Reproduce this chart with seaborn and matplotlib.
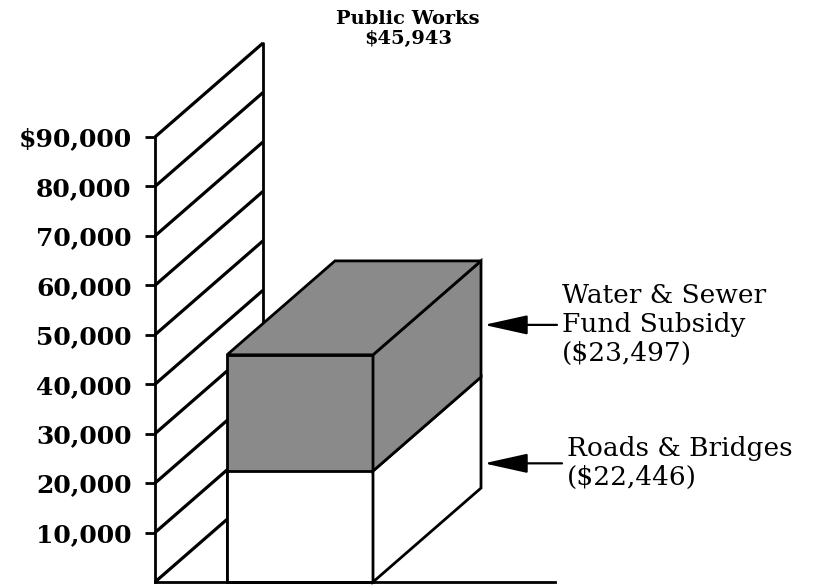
import numpy as np
import pandas as pd
import matplotlib
matplotlib.use("Agg")
import matplotlib.pyplot as plt
import seaborn as sns
from matplotlib.patches import Polygon

# ---- data ----
title = "Public Works"
segments = ["Roads & Bridges", "Water & Sewer\nFund Subsidy"]
amounts = [22446, 23497]
tick_values = [10000, 20000, 30000, 40000, 50000, 60000, 70000, 80000, 90000]
tick_labels = ["10,000", "20,000", "30,000", "40,000", "50,000",
               "60,000", "70,000", "80,000", "$90,000"]

# ---- styling / layout ----
FILLS = ["white", "#8a8a8a"]
BAR_W = 0.73          # width of the front face (x units)
DEPTH_X = 0.54        # perspective offset of the back plane (x units)
DEPTH_Y = 19000       # perspective offset of the back plane (dollars)
AXIS_X = -0.725       # position of the value axis
FLOOR_END = 1.275
LW = 2.0

sns.set_style("white")
plt.rcParams["font.family"] = ["DejaVu Serif"]
plt.rcParams["text.color"] = "black"
plt.rcParams["ytick.color"] = "black"
plt.rcParams["axes.edgecolor"] = "black"

fig = plt.figure(figsize=(8.19, 5.87), dpi=100)
ax = fig.add_axes([0, 0, 1, 1])

total = sum(amounts)
tops = np.cumsum(amounts)
bottoms = tops - np.array(amounts)

# front faces of the stacked bar: tallest first so lower segments sit on top
for i in reversed(range(len(amounts))):
    df = pd.DataFrame({"group": [title], "value": [tops[i]]})
    sns.barplot(data=df, x="group", y="value", color=FILLS[i], saturation=1,
                width=BAR_W, edgecolor="black", linewidth=LW, ax=ax, zorder=3)

x0, x1 = -BAR_W / 2, BAR_W / 2

# side and top faces of each segment
for i in range(len(amounts)):
    lo, hi = bottoms[i], tops[i]
    side = Polygon([(x1, lo), (x1 + DEPTH_X, lo + DEPTH_Y),
                    (x1 + DEPTH_X, hi + DEPTH_Y), (x1, hi)],
                   closed=True, facecolor=FILLS[i], edgecolor="black",
                   linewidth=LW, zorder=4, joinstyle="miter")
    ax.add_patch(side)
top_face = Polygon([(x0, tops[-1]), (x0 + DEPTH_X, tops[-1] + DEPTH_Y),
                    (x1 + DEPTH_X, tops[-1] + DEPTH_Y), (x1, tops[-1])],
                   closed=True, facecolor=FILLS[-1], edgecolor="black",
                   linewidth=LW, zorder=4, joinstyle="miter")
ax.add_patch(top_face)

# back wall with perspective grid lines
grid_vals = [0] + tick_values
for v in grid_vals:
    ax.plot([AXIS_X, AXIS_X + DEPTH_X], [v, v + DEPTH_Y], color="black",
            lw=2.3, zorder=1, solid_capstyle="butt")
ax.plot([AXIS_X + DEPTH_X, AXIS_X + DEPTH_X], [DEPTH_Y, tick_values[-1] + DEPTH_Y],
        color="black", lw=2.0, zorder=1)

# axes: value axis on the left, floor line at zero
ax.set_xlim(-1.5, 2.595)
ax.set_ylim(-1011, 117708)
for s in ["top", "right"]:
    ax.spines[s].set_visible(False)
ax.spines["left"].set_position(("data", AXIS_X))
ax.spines["left"].set_bounds(0, tick_values[-1])
ax.spines["left"].set_linewidth(2.0)
ax.spines["bottom"].set_position(("data", 0))
ax.spines["bottom"].set_bounds(AXIS_X, FLOOR_END)
ax.spines["bottom"].set_linewidth(2.0)
ax.spines["left"].set_zorder(5)
ax.spines["bottom"].set_zorder(5)

ax.set_xticks([])
ax.set_xlabel("")
ax.set_ylabel("")
ax.set_yticks(tick_values, tick_labels, fontsize=18, fontweight="bold",
              color="black")
ax.tick_params(axis="y", direction="out", length=7, width=2, pad=10, left=True,
               colors="black")
ax.patch.set_alpha(0)

# callouts
callout_y = [24000, 52000]
text_x = [1.335, 1.31]
tail_x = [1.31, 1.285]
tip_x = x1 + DEPTH_X + 0.015
for i in range(len(amounts)):
    ax.annotate("", xy=(tip_x, callout_y[i]), xytext=(tail_x[i], callout_y[i]),
                arrowprops=dict(arrowstyle="-|>,head_length=1.35,head_width=0.3",
                                mutation_scale=20, lw=1.6, color="black",
                                shrinkA=0, shrinkB=0), zorder=6)
    ax.text(text_x[i], callout_y[i], f"{segments[i]}\n(${amounts[i]:,})",
            ha="left", va="center", fontsize=19, linespacing=1.2,
            color="black", zorder=6)

ax.text(0.498, 0.951, f"{title}\n${total:,}", transform=ax.transAxes,
        ha="center", va="center", fontsize=14, fontweight="bold",
        linespacing=1.15, color="black")

fig.savefig("out.png", dpi=100)
